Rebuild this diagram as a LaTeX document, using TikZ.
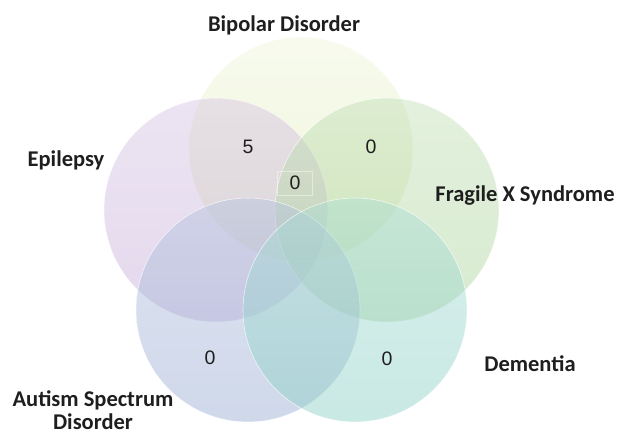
\documentclass[tikz,border=0pt]{standalone}
\usepackage{fontspec}
\setmainfont{Carlito}
\newfontfamily\numfont{Liberation Sans}
\usepackage{tikz}

\definecolor{bipcol}{RGB}{218,232,170}
\definecolor{epicol}{RGB}{195,170,215}
\definecolor{fracol}{RGB}{166,209,149}
\definecolor{autcol}{RGB}{149,169,209}
\definecolor{demcol}{RGB}{135,206,195}
\definecolor{txtcol}{RGB}{30,30,30}

\begin{document}
\begin{tikzpicture}[x=1pt,y=-1pt,
    setbox/.style={circle,minimum size=224pt,inner sep=0pt,draw=white,line width=0.6pt,fill opacity=0.45,draw opacity=0.7},
    setname/.style={font=\fontsize{22.5}{22.5}\selectfont\bfseries,text=txtcol,align=center},
    count/.style={font=\fontsize{19.5}{21}\selectfont\numfont,text=txtcol}]
  \useasboundingbox (0,0) rectangle (635,437);

  % the five sets
  \node[setbox,top color=bipcol!45!white,bottom color=bipcol] (bip) at (301,149) {};
  \node[setbox,top color=epicol!70!white,bottom color=epicol] (epi) at (216,210) {};
  \node[setbox,top color=fracol!70!white,bottom color=fracol] (fra) at (387,210) {};
  \node[setbox,top color=autcol!70!white,bottom color=autcol] (aut) at (248,310) {};
  \node[setbox,top color=demcol!70!white,bottom color=demcol] (dem) at (355,310) {};

  % names
  \node[setname] (bipname) at (284,25) {Bipolar Disorder};
  \node[setname] (epiname) at (66,160) {Epilepsy};
  \node[setname] (franame) at (525,196) {Fragile X Syndrome};
  \node[setname] (demname) at (530,364) {Dementia};
  \node[setname,inner sep=1pt] (autname) at (93,410) {Autism Spectrum\\Disorder};

  % counts
  \node[count] (nbipepi) at (248,147) {5};
  \node[count] (nbipfra) at (371,147) {0};
  \node[count,draw=white,draw opacity=0.45,line width=0.5pt,minimum width=35pt,minimum height=24pt] (nall) at (295,183) {0};
  \node[count] (nautepi) at (210,358) {0};
  \node[count] (ndemfra) at (387,359) {0};
\end{tikzpicture}
\end{document}
